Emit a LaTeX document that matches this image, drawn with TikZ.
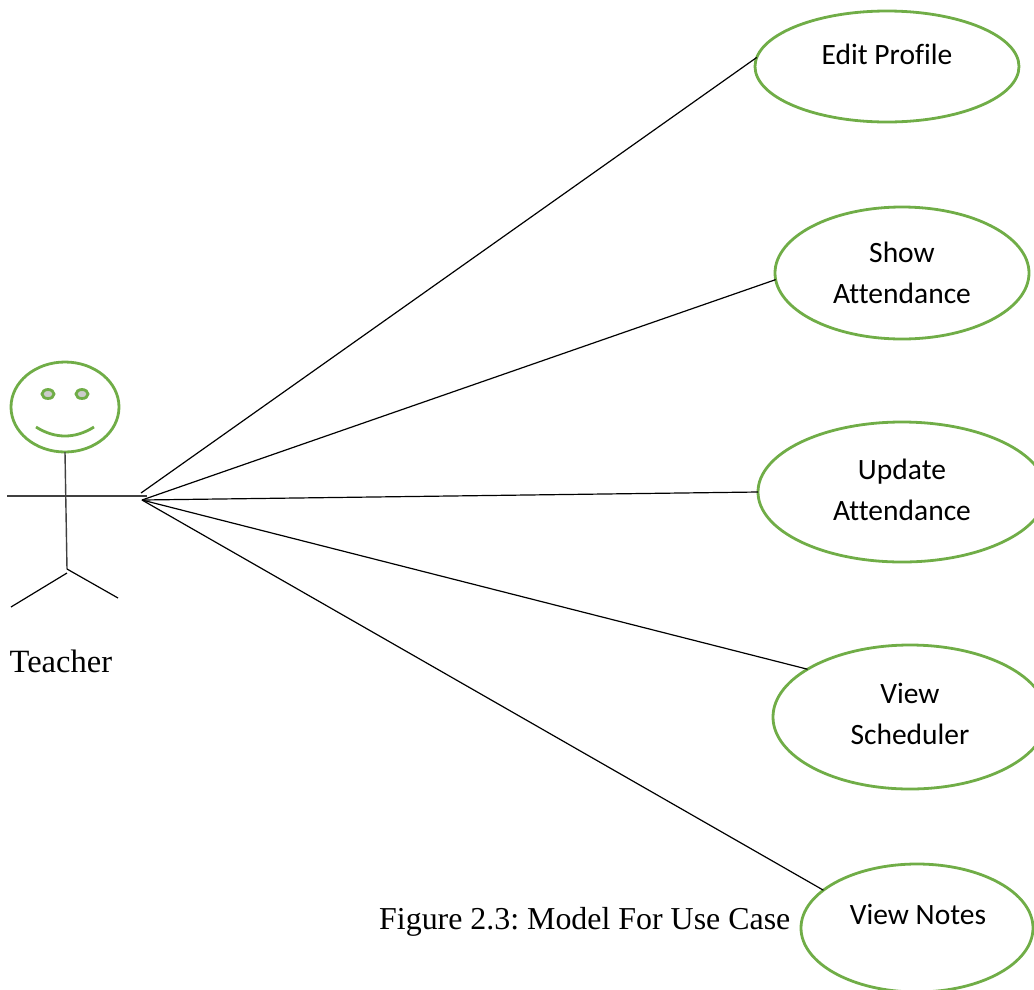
\documentclass[tikz,border=0pt]{standalone}
\usepackage{fontspec}
\setmainfont{Liberation Serif}
\newfontfamily\ucfont[Ligatures=NoCommon]{Carlito}
\usetikzlibrary{shapes.geometric}
\definecolor{ucgreen}{HTML}{70AD47}
\tikzset{
  x=1pt,y=-1pt,
  usecase/.style={draw=ucgreen,line width=2.8pt,ellipse,inner sep=0pt,outer sep=0pt,minimum width=#1},
  uclabel/.style={font=\ucfont\fontsize{29.5}{40.5}\selectfont,align=center,inner sep=0pt},
  serif/.style={font=\fontsize{32.5}{36}\selectfont,inner sep=0pt,anchor=base west},
  link/.style={draw=black,line width=1.2pt},
  body/.style={draw=black!75,line width=1.4pt},
  facepart/.style={draw=ucgreen,line width=2.8pt}
}
\frenchspacing
\begin{document}
\begin{tikzpicture}
\useasboundingbox (0,0) rectangle (1034,989);
\clip (0,0) rectangle (1034,989);
% use cases
\node[usecase=264pt,minimum height=111pt] (edit) at (887,66.5) {};
\node[usecase=254pt,minimum height=132pt] (show) at (902,273) {};
\node[usecase=288pt,minimum height=140pt] (update) at (902,492) {};
\node[usecase=274pt,minimum height=144pt] (sched) at (910,717) {};
\node[usecase=232pt,minimum height=128pt] (notes) at (917,928) {};
\node[uclabel] (editT) at (887,54) {Edit Profile};
\node[uclabel] (showT) at (902,273) {Show\\Attendance};
\node[uclabel] (updateT) at (902,490) {Update\\Attendance};
\node[uclabel] (schedT) at (910,714) {View\\Scheduler};
\node[uclabel] (notesT) at (918,914) {View Notes};
% actor
\node[draw=ucgreen,line width=2.8pt,ellipse,minimum width=108pt,minimum height=90pt,inner sep=0pt,outer sep=0pt] (head) at (65,407) {};
\node[facepart,fill=black!20,ellipse,minimum width=12pt,minimum height=9pt,inner sep=0pt] (eyeL) at (48,394) {};
\node[facepart,fill=black!20,ellipse,minimum width=12pt,minimum height=9pt,inner sep=0pt] (eyeR) at (82,394) {};
\coordinate (smileL) at (36,427);
\coordinate (smileR) at (94,427);
\draw[facepart] (smileL) .. controls (55,439) and (75,439) .. (smileR);
\coordinate (hip) at (67,569);
\coordinate (hipL) at (67,573);
\coordinate (footL) at (11,607);
\coordinate (footR) at (118,598);
\coordinate (handL) at (7,496);
\coordinate (handR) at (147,496);
\draw[body] (head.south) -- (hip);
\draw[body,line width=1.7pt] (handL) -- (handR);
\draw[link] (hip) -- (footR);
\draw[link] (hipL) -- (footL);
% connectors
\coordinate (hubA) at (141,493);
\coordinate (hubB) at (142,500);
\draw[link] (hubA) -- (edit.176);
\draw[link] (hubB) -- (show.183);
\draw[link] (hubB) -- (update.180);
\draw[link] (hubB) -- (sched.155);
\draw[link] (hubB) -- (notes.158);
% labels
\node[serif] (teacher) at (9.5,672) {Teacher};
\node[serif,font=\fontsize{31.9}{36}\selectfont] (caption) at (379,929) {Figure 2.3: Model For Use Case};
\end{tikzpicture}
\end{document}
